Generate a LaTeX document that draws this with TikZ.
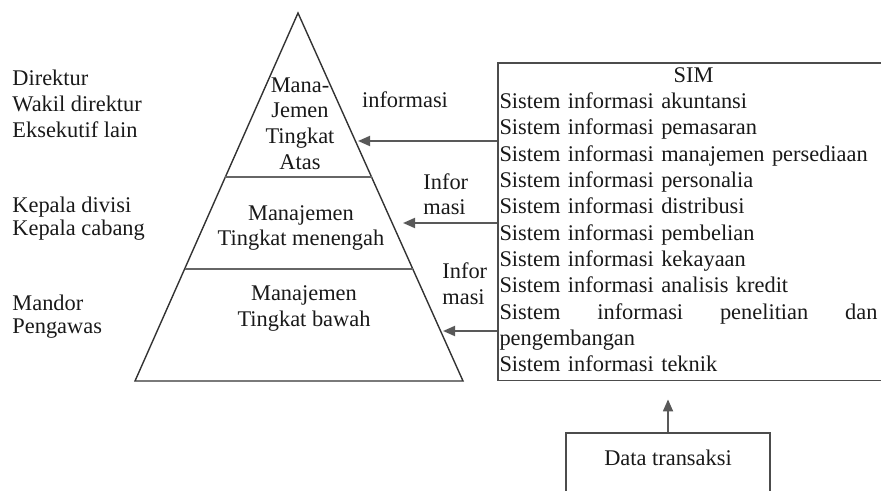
\documentclass[tikz,border=0pt]{standalone}
\usepackage{fontspec}
\setmainfont{Liberation Serif}
\usetikzlibrary{arrows.meta}

\begin{document}
\begin{tikzpicture}[x=0.5pt, y=-0.5pt,
    every node/.style={inner sep=0pt, text=black!90},
    txt/.style={font=\fontsize{11.2}{#1}\selectfont},
    txt/.default=12.9,
    edge/.style={line width=0.7pt, draw=black!80},
    level/.style={line width=1pt, draw=black!60},
    box/.style={draw=black!70, line width=0.9pt},
    infoarrow/.style={line width=0.9pt, draw=black!65, -{Triangle[length=6pt, width=5pt]}}]
    \useasboundingbox (0,0) rectangle (881,491);
    \clip (0,0) rectangle (881,491);

    % Pyramid
    \coordinate (apex) at (298,13);
    \draw[edge] (apex) -- (463,381) -- (135,381) -- cycle;
    \draw[level] (225,177) -- (372,177);
    \draw[level] (185,269) -- (413,269);

    % Levels inside the pyramid
    \node[txt=12.85, align=center] (atas) at (300,123.5) {Mana-\\Jemen\\Tingkat\\Atas};
    \node[txt=12.5, align=center] (menengah) at (301,228.5) {Manajemen\\Tingkat menengah};
    \node[txt=13, align=center] (bawah) at (304,308.5) {Manajemen\\Tingkat bawah};

    % Positions on the left
    \node[txt=12.9, align=left, anchor=west] (pimpinan) at (12,104) {Direktur\\Wakil direktur\\Eksekutif lain};
    \node[txt=11.7, align=left, anchor=west] (kepala) at (12,218.5) {Kepala divisi\\Kepala cabang};
    \node[txt=11.7, align=left, anchor=west] (mandor) at (12,316.5) {Mandor\\Pengawas};

    % SIM box
    \node[box, txt=13.15, anchor=north west, text width=194pt, inner xsep=0.8pt, inner ysep=0.5pt, align=left] (sim) at (497,62)
        {\hbox to \hsize{\hfil\strut SIM\hfil}
         Sistem informasi akuntansi\\
         Sistem informasi pemasaran\\
         Sistem informasi manajemen persediaan\\
         Sistem informasi personalia\\
         Sistem informasi distribusi\\
         Sistem informasi pembelian\\
         Sistem informasi kekayaan\\
         Sistem informasi analisis kredit\\
         \hbox to \dimexpr\hsize-5pt\relax{Sistem\hfill informasi\hfill penelitian\hfill dan}
         pengembangan\\
         Sistem informasi teknik\strut};

    % Data transaksi box
    \node[box, txt, anchor=north, minimum width=102pt, text height=16.5pt, text depth=30pt] (data) at (668,432) {Data transaksi};
    \draw[infoarrow, shorten >=9pt] (data.north) -- (data.north |- sim.south);

    % Information flows
    \coordinate (tipatas) at (358,141);
    \coordinate (tipmenengah) at (403,223);
    \coordinate (tipbawah) at (443,331);
    \draw[infoarrow] (sim.west |- tipatas) -- (tipatas);
    \draw[infoarrow] (sim.west |- tipmenengah) -- (tipmenengah);
    \draw[infoarrow] (sim.west |- tipbawah) -- (tipbawah);
    \node[txt] (info) at (405,100) {informasi};
    \node[txt=12.5, align=left, anchor=west] (infomenengah) at (423,194.5) {Infor\\masi};
    \node[txt=13, align=left, anchor=west] (infobawah) at (442,283.5) {Infor\\masi};
\end{tikzpicture}
\end{document}
